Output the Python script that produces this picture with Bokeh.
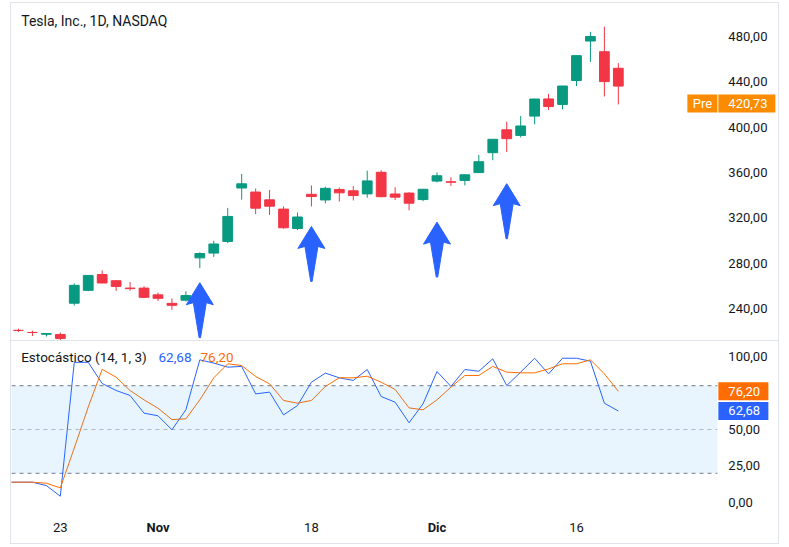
from bokeh.plotting import figure
from bokeh.models import Range1d, Label, BoxAnnotation, Div, ColumnDataSource
from bokeh.layouts import column
from bokeh.embed import file_html
from bokeh.resources import INLINE
from bokeh.core.properties import value

# ---------------- data ----------------
dates = ["Oct 18", "Oct 21", "Oct 22", "Oct 23", "Oct 24", "Oct 25", "Oct 28", "Oct 29", "Oct 30", "Oct 31",
         "Nov 1", "Nov 4", "Nov 5", "Nov 6", "Nov 7", "Nov 8", "Nov 11", "Nov 12", "Nov 13", "Nov 14",
         "Nov 15", "Nov 18", "Nov 19", "Nov 20", "Nov 21", "Nov 22", "Nov 25", "Nov 26", "Nov 27", "Nov 29",
         "Dec 2", "Dec 3", "Dec 4", "Dec 5", "Dec 6", "Dec 9", "Dec 10", "Dec 11", "Dec 12", "Dec 13",
         "Dec 16", "Dec 17", "Dec 18", "Dec 19"]
opens = [220.71, 218.90, 217.31, 217.13, 244.68, 256.01, 270.00, 264.51, 258.04, 257.99,
         252.04, 244.56, 247.34, 284.67, 288.89, 299.14, 346.30, 342.74, 335.85, 327.69,
         310.57, 340.73, 335.76, 345.00, 343.81, 341.09, 360.14, 341.00, 341.80, 336.08,
         352.38, 351.80, 353.00, 359.87, 377.42, 397.61, 392.68, 409.70, 424.84, 420.00,
         441.09, 475.90, 466.50, 451.88]
highs = [222.28, 220.48, 218.22, 218.72, 262.12, 269.49, 273.54, 264.98, 263.35, 259.75,
         254.00, 248.90, 255.28, 289.59, 299.75, 328.71, 358.64, 345.84, 344.60, 329.98,
         324.68, 348.55, 347.38, 346.60, 347.99, 361.53, 361.93, 346.96, 342.55, 345.45,
         360.00, 355.69, 358.10, 375.43, 389.49, 404.80, 409.73, 424.88, 429.30, 436.30,
         463.19, 483.99, 488.54, 456.36]
lows = [219.23, 215.73, 215.26, 212.11, 242.65, 255.32, 262.24, 255.51, 255.82, 249.25,
        246.63, 238.88, 246.21, 275.62, 285.52, 297.66, 336.00, 323.31, 322.50, 310.37,
        309.22, 330.01, 332.75, 334.30, 335.28, 337.70, 338.20, 335.66, 326.59, 334.65,
        351.15, 348.20, 348.60, 359.50, 370.80, 378.01, 390.85, 402.38, 415.00, 415.71,
        436.15, 457.51, 427.01, 420.02]
closes = [220.70, 218.85, 217.97, 213.65, 260.48, 269.19, 262.51, 259.52, 257.55, 249.85,
          248.98, 242.84, 251.44, 288.53, 296.91, 321.22, 350.00, 328.49, 330.24, 311.18,
          320.72, 338.74, 346.00, 342.03, 339.64, 352.56, 338.59, 338.23, 332.89, 345.16,
          357.09, 351.42, 357.93, 369.49, 389.22, 389.79, 400.99, 424.77, 418.10, 436.23,
          463.02, 479.86, 440.13, 436.17]

# stochastic (14,1,3): first point is the session before Oct 18
stoch_k = [13.9, 13.9, 13.9, 11.6, 4.3, 96.0, 96.0, 81.5, 76.7, 73.3,
           61.2, 59.4, 49.8, 63.5, 97.7, 95.5, 92.7, 93.2, 74.4, 75.6,
           60.0, 66.4, 82.4, 88.6, 85.4, 83.6, 91.1, 72.6, 68.7, 54.6,
           67.6, 89.7, 79.5, 91.1, 89.9, 98.4, 80.1, 89.3, 98.8, 88.1,
           98.8, 98.8, 96.8, 68.0, 62.68]
stoch_d = [13.9, 13.9, 13.9, 13.2, 10.0, 37.3, 65.4, 91.2, 85.8, 76.7,
           70.3, 64.6, 56.8, 57.3, 70.3, 85.4, 95.0, 93.8, 86.3, 81.3,
           69.9, 68.0, 69.9, 79.5, 85.4, 85.4, 86.5, 82.4, 77.4, 64.8,
           63.5, 70.3, 79.0, 87.0, 87.0, 93.2, 89.3, 88.8, 88.8, 91.5,
           95.0, 95.0, 97.7, 88.1, 76.20]

price_ticks = [240, 280, 320, 360, 400, 440, 480]
price_tick_labels = ["240,00", "280,00", "320,00", "360,00", "400,00", "440,00", "480,00"]
stoch_ticks = [0, 25, 50, 75, 100]
stoch_tick_labels = ["0,00", "25,00", "50,00", "75,00", "100,00"]
day_ticks = [3, 21, 40]
day_tick_labels = ["23", "18", "16"]
month_ticks = [10, 30]
month_tick_labels = ["Nov", "Dic"]
stoch_bands = [20, 50, 80]

arrow_idx = [13, 21, 30, 35]
arrow_tip_price = [262.8, 312.4, 316.2, 350.1]

pre_price = 420.73
pre_text = "420,73"
k_last_text = "62,68"
d_last_text = "76,20"

# ---------------- styling ----------------
GREEN = "#089981"
RED = "#F23645"
BLUE = "#2962FF"
ORANGE = "#FF6D00"
PRE = "#FB8C00"
TXT = "#131722"
FONT = "Roboto"

PX_X = 13.95     # px per session
PX_P = 1.134     # px per price unit
PX_S = 1.46      # px per stochastic unit
X0 = -0.5        # left edge of panes
XS = 50.1        # position of the price scale (right edge of plotting area)
XL = XS + 11 / PX_X   # left edge of scale labels

x_range = Range1d(X0, X0 + 767 / PX_X)


def base(fig):
    fig.grid.visible = False
    fig.axis.visible = False
    fig.outline_line_color = None
    fig.background_fill_color = "white"
    fig.border_fill_color = "white"


def scale_labels(fig, ys, labels):
    fig.text(x=[XL] * len(ys), y=ys, text=labels, text_font=value(FONT),
             text_font_size="13px", text_color=TXT, text_align="left", text_baseline="middle")


def tag(fig, y, text, color, width_px):
    fig.rect(x=[XS + (1 + width_px / 2) / PX_X], y=[y], width=width_px, height=18,
             width_units="screen", height_units="screen", fill_color=color, line_color=None)
    fig.text(x=[XL], y=[y], text=[text], text_font=value(FONT), text_font_size="13px",
             text_color="white", text_align="left", text_baseline="middle")


# ---------------- price pane ----------------
p1 = figure(width=767, height=337, x_range=x_range, y_range=Range1d(211.8, 509.0),
            toolbar_location=None, output_backend="svg",
            min_border_left=0, min_border_right=0, min_border_top=0, min_border_bottom=0)
base(p1)

idx = list(range(len(dates)))
colors = [GREEN if c >= o else RED for o, c in zip(opens, closes)]
src = ColumnDataSource(dict(
    x=idx, high=highs, low=lows,
    top=[max(o, c) for o, c in zip(opens, closes)],
    bottom=[min(o, c) for o, c in zip(opens, closes)],
    color=colors))
p1.segment(x0="x", y0="low", x1="x", y1="high", color="color", line_width=1, source=src)
p1.vbar(x="x", width=0.70, top="top", bottom="bottom", fill_color="color",
        line_color="color", line_width=1, source=src)

# blue arrows (annotations)
shape = [(0, 0), (13.5, 22), (6.5, 20), (0.7, 55), (-0.7, 55), (-6.5, 20), (-13.5, 22)]
axs, ays = [], []
for xi, yp in zip(arrow_idx, arrow_tip_price):
    axs.append([xi + dx / PX_X for dx, dy in shape])
    ays.append([yp - dy / PX_P for dx, dy in shape])
p1.patches(axs, ays, fill_color=BLUE, line_color=BLUE, line_width=1)

scale_labels(p1, price_ticks, price_tick_labels)

p1.add_layout(Label(x=X0 + 9.7 / PX_X, y=480 + 15 / PX_P, text="Tesla, Inc., 1D, NASDAQ",
                    text_baseline="middle", text_font=FONT, text_font_size="14px",
                    text_color=TXT))
# pre-market price tags
p1.rect(x=[XS - 15 / PX_X], y=[pre_price], width=30, height=18, width_units="screen",
        height_units="screen", fill_color=PRE, line_color=None)
p1.text(x=[XS - 15 / PX_X], y=[pre_price], text=["Pre"], text_font=value(FONT),
        text_font_size="13px", text_color="white", text_align="center", text_baseline="middle")
tag(p1, pre_price, pre_text, PRE, 57)

# ---------------- stochastic pane ----------------
p2 = figure(width=767, height=202, x_range=x_range, y_range=Range1d(-28.08, 110.27),
            toolbar_location=None, output_backend="svg",
            min_border_left=0, min_border_right=0, min_border_top=0, min_border_bottom=0)
base(p2)

p2.add_layout(BoxAnnotation(bottom=stoch_bands[0], top=stoch_bands[2], right=XS,
                            fill_color="#2196F3", fill_alpha=0.1, line_color=None))
for lvl in stoch_bands:
    p2.segment(x0=[X0], y0=[lvl], x1=[XS], y1=[lvl], line_color="#787B86",
               line_alpha=0.5 if lvl == 50 else 1.0, line_dash="4 4", line_width=1)

sx = list(range(-1, len(dates)))
p2.line(sx, stoch_k, line_color=BLUE, line_width=1)
p2.line(sx, stoch_d, line_color=ORANGE, line_width=1)

scale_labels(p2, stoch_ticks, stoch_tick_labels)

# time scale
x_lab_y = -25 / PX_S
p2.text(x=day_ticks, y=[x_lab_y] * len(day_ticks), text=day_tick_labels, text_font=value(FONT),
        text_font_size="13px", text_color=TXT, text_align="center", text_baseline="middle")
p2.text(x=month_ticks, y=[x_lab_y] * len(month_ticks), text=month_tick_labels,
        text_font=value(FONT), text_font_size="13px", text_font_style="bold", text_color=TXT,
        text_align="center", text_baseline="middle")

leg_y = 100 - 1 / PX_S
p2.add_layout(Label(x=X0 + 9.7 / PX_X, y=leg_y, text="Estocástico (14, 1, 3)",
                    text_baseline="middle", text_font=FONT, text_font_size="13.5px", text_color=TXT))
p2.add_layout(Label(x=X0 + 147 / PX_X, y=leg_y, text=k_last_text, text_baseline="middle",
                    text_font=FONT, text_font_size="13.5px", text_color=BLUE))
p2.add_layout(Label(x=X0 + 189 / PX_X, y=leg_y, text=d_last_text, text_baseline="middle",
                    text_font=FONT, text_font_size="13.5px", text_color=ORANGE))

tag(p2, stoch_d[-1], d_last_text, ORANGE, 50)
tag(p2, stoch_k[-1], k_last_text, BLUE, 50)

sep = Div(text="", width=767, height=1, margin=0, styles={"background-color": "#E0E3EB"})

layout = column(p1, sep, p2, spacing=0,
                styles={"border": "1px solid #E0E3EB", "margin-left": "10px", "margin-top": "2px"})

open("out.html", "w").write(file_html(layout, INLINE))
